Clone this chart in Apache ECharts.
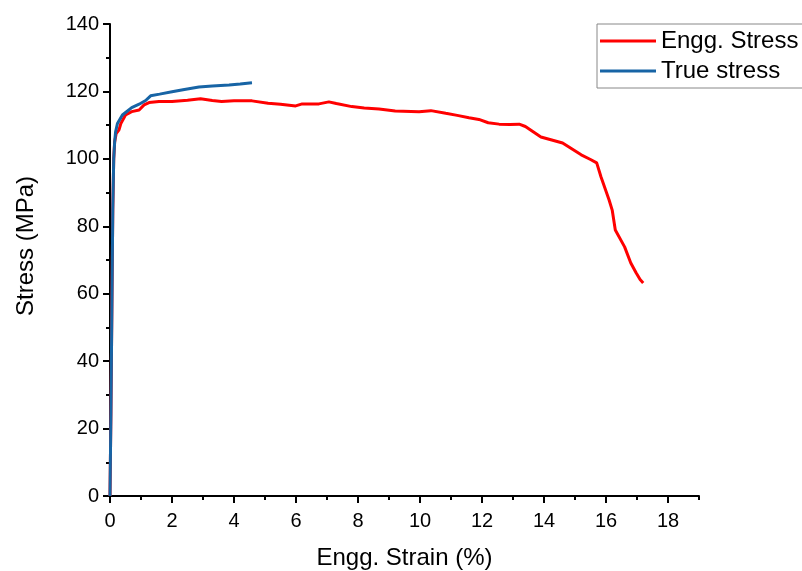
<!DOCTYPE html>
<html>
<head>
<meta charset="utf-8">
<script src="https://cdn.jsdelivr.net/npm/echarts@6/dist/echarts.min.js"></script>
<style>html,body{margin:0;padding:0;background:#fff;}#c{width:802px;height:571px;}</style>
</head>
<body>
<div id="c"></div>
<script>
const enggStrain = [0,0.03,0.06,0.09,0.12,0.15,0.2,0.29,0.35,0.5,0.7,0.94,1.1,1.26,1.58,2.0,2.5,2.92,3.3,3.6,4.0,4.58,5.1,5.5,5.99,6.2,6.74,7.06,7.3,7.8,8.2,8.68,9.2,9.97,10.35,10.83,11.2,11.58,11.9,12.2,12.55,12.9,13.2,13.4,13.9,14.6,15.2,15.5,15.7,15.84,16.1,16.2,16.3,16.6,16.8,16.97,17.1,17.2];
const enggStress = [0,25,55,85,100,105,107.5,108.6,110.5,113,114,114.5,116,116.7,117,117,117.4,117.8,117.3,117.0,117.2,117.2,116.5,116.2,115.7,116.3,116.3,116.9,116.4,115.5,115.1,114.8,114.2,114.0,114.3,113.5,112.9,112.2,111.7,110.7,110.3,110.2,110.3,109.6,106.5,104.7,101.2,99.8,98.8,94.6,87.8,84.8,78.9,73.9,69.1,66.2,64.2,63.2];
const trueStrain = [0,0.03,0.06,0.09,0.12,0.15,0.18,0.24,0.4,0.7,0.94,1.15,1.31,1.6,2.0,2.4,2.87,3.3,3.84,4.2,4.58];
const trueStress = [0,25,55,85,100,105,108,110.5,113,115.2,116.2,117.3,118.7,119.2,119.9,120.6,121.3,121.6,121.9,122.2,122.6];
const seriesNames = ['Engg. Stress','True stress'];
const xMajorTicks = [0,2,4,6,8,10,12,14,16,18];
const yMajorTicks = [0,20,40,60,80,100,120,140];
const xRange = {min:0, max:19, minorInterval:1};
const yRange = {min:0, max:140, minorInterval:10};

const pair = (xs, ys) => xs.map((x,i)=>[x, ys[i]]);
const chart = echarts.init(document.getElementById('c'));
const font = 'Liberation Sans, Arial, sans-serif';
const lineCol = '#000';
chart.setOption({
  animation:false,
  grid:{left:110, right:103, top:24, bottom:75, containLabel:false, outerBoundsMode:'none'},
  legend:{
    orient:'vertical', left:597, top:24,
    data:seriesNames, icon:'rect',
    itemWidth:56, itemHeight:3, itemGap:6,
    padding:[5,20,5,3],
    borderColor:'#888', borderWidth:1,
    textStyle:{fontFamily:font, fontSize:24, color:'#000'}
  },
  xAxis:[{
    type:'value', min:xRange.min, max:xRange.max, interval:xRange.minorInterval,
    name:'Engg. Strain (%)', nameLocation:'middle', nameGap:50,
    nameTextStyle:{fontFamily:font, fontSize:24, color:'#000'},
    axisLine:{show:true, onZero:false, lineStyle:{color:lineCol, width:2}},
    axisTick:{show:true, inside:false, length:4, lineStyle:{color:lineCol, width:2}},
    axisLabel:{fontFamily:font, fontSize:20, color:'#000', margin:15,
      formatter:v => (xMajorTicks.indexOf(v) >= 0 ? String(v) : '')},
    splitLine:{show:false}
  },{
    type:'value', min:xRange.min, max:xRange.max, position:'bottom',
    axisLine:{show:false, onZero:false},
    axisTick:{show:true, inside:false, length:7, customValues:xMajorTicks, lineStyle:{color:lineCol, width:2}},
    axisLabel:{show:false},
    splitLine:{show:false}
  }],
  yAxis:[{
    type:'value', min:yRange.min, max:yRange.max, interval:yRange.minorInterval,
    name:'Stress (MPa)', nameLocation:'middle', nameGap:72,
    nameTextStyle:{fontFamily:font, fontSize:24, color:'#000', padding:[0,0,0,28]},
    axisLine:{show:true, onZero:false, lineStyle:{color:lineCol, width:2}},
    axisTick:{show:true, inside:false, length:4, lineStyle:{color:lineCol, width:2}},
    axisLabel:{fontFamily:font, fontSize:20, color:'#000', margin:11,
      formatter:v => (yMajorTicks.indexOf(v) >= 0 ? String(v) : '')},
    splitLine:{show:false}
  },{
    type:'value', min:yRange.min, max:yRange.max, position:'left',
    axisLine:{show:false, onZero:false},
    axisTick:{show:true, inside:false, length:7, customValues:yMajorTicks, lineStyle:{color:lineCol, width:2}},
    axisLabel:{show:false},
    splitLine:{show:false}
  }],
  series:[
    {name:seriesNames[0], type:'line', data:pair(enggStrain, enggStress), symbol:'none',
      lineStyle:{color:'#ff0000', width:3}, itemStyle:{color:'#ff0000'}, z:2},
    {name:seriesNames[1], type:'line', data:pair(trueStrain, trueStress), symbol:'none',
      lineStyle:{color:'#1764a5', width:3}, itemStyle:{color:'#1764a5'}, z:3}
  ]
});
</script>
</body>
</html>
